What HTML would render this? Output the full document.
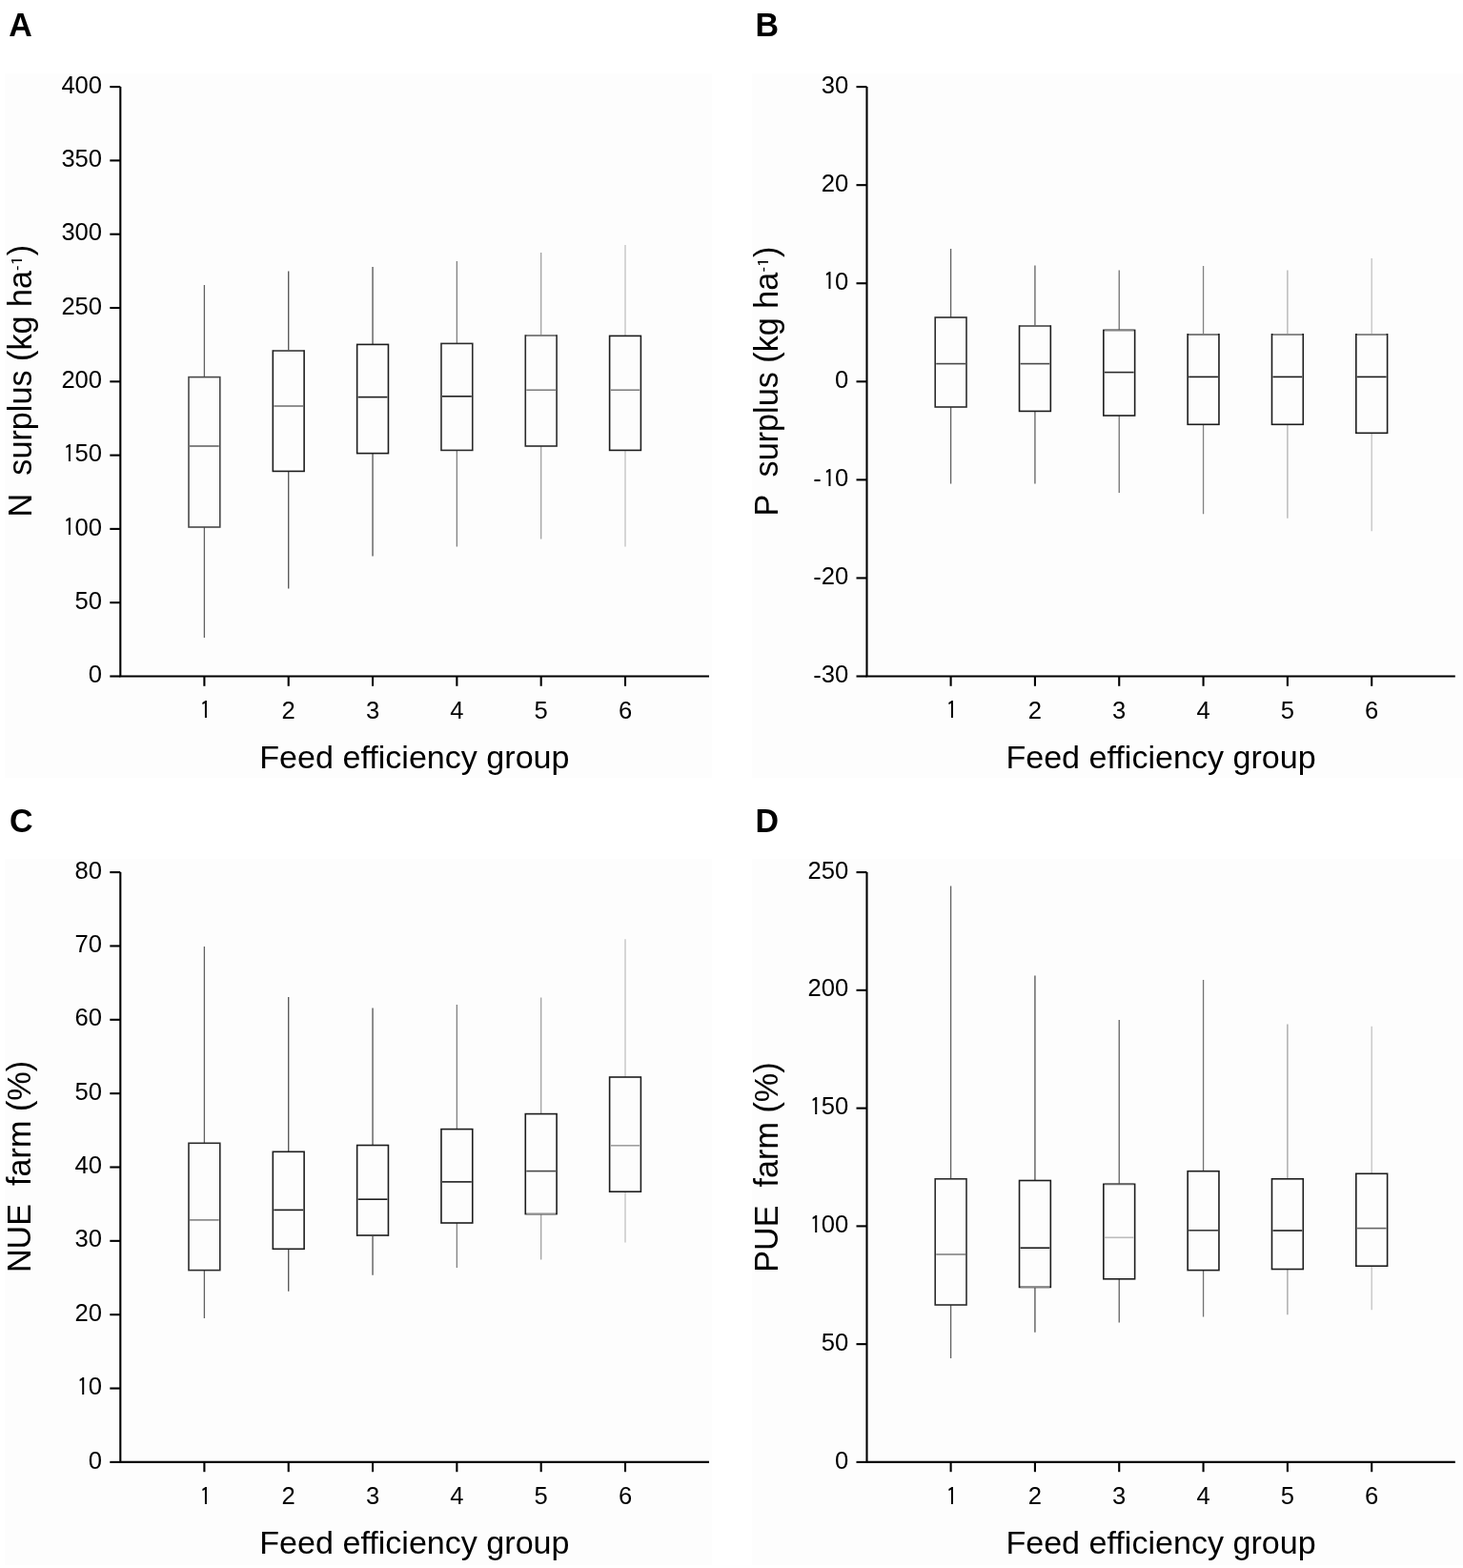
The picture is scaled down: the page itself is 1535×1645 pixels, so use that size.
<!DOCTYPE html><html><head><meta charset="utf-8"><title>Feed efficiency group box plots</title><style>
html,body{margin:0;padding:0;background:#fff;}body{width:1535px;height:1645px;overflow:hidden;}svg{display:block;}
text{font-family:"Liberation Sans", Arial, sans-serif;fill:#000;}
</style></head><body>
<svg width="1535" height="1645" viewBox="0 0 1535 1645">
<rect x="0" y="0" width="1535" height="1645" fill="#fff"/>
<rect x="5" y="77" width="742" height="739" fill="#fdfdfd"/>
<rect x="789" y="77" width="746" height="739" fill="#fdfdfd"/>
<rect x="5" y="901" width="742" height="741" fill="#fdfdfd"/>
<rect x="789" y="901" width="746" height="741" fill="#fdfdfd"/>
<text transform="translate(9.3 37.8) scale(1 1.03)" font-size="34" font-weight="bold">A</text>
<path d="M126.3 91.1V709.5H744" fill="none" stroke="#000" stroke-width="2.1"/>
<path d="M115.3 709.5H126.3" stroke="#000" stroke-width="2.1"/>
<text transform="translate(92.86 716.10) scale(1 1.04)" font-size="25.6">0</text>
<path d="M115.3 632.2H126.3" stroke="#000" stroke-width="2.1"/>
<text transform="translate(78.62 638.80) scale(1 1.04)" font-size="25.6">50</text>
<path d="M115.3 554.9H126.3" stroke="#000" stroke-width="2.1"/>
<text transform="translate(64.39 561.50) scale(1 1.04)" font-size="25.6"><tspan dx="2.11" dy="0.64" style="font-family:IPAGothic,'Liberation Sans',sans-serif;font-size:24.4px">1</tspan><tspan dx="-0.07" dy="-0.64">00</tspan></text>
<path d="M115.3 477.6H126.3" stroke="#000" stroke-width="2.1"/>
<text transform="translate(64.39 484.20) scale(1 1.04)" font-size="25.6"><tspan dx="2.11" dy="0.64" style="font-family:IPAGothic,'Liberation Sans',sans-serif;font-size:24.4px">1</tspan><tspan dx="-0.07" dy="-0.64">50</tspan></text>
<path d="M115.3 400.3H126.3" stroke="#000" stroke-width="2.1"/>
<text transform="translate(64.39 406.90) scale(1 1.04)" font-size="25.6">200</text>
<path d="M115.3 323H126.3" stroke="#000" stroke-width="2.1"/>
<text transform="translate(64.39 329.60) scale(1 1.04)" font-size="25.6">250</text>
<path d="M115.3 245.7H126.3" stroke="#000" stroke-width="2.1"/>
<text transform="translate(64.39 252.30) scale(1 1.04)" font-size="25.6">300</text>
<path d="M115.3 168.4H126.3" stroke="#000" stroke-width="2.1"/>
<text transform="translate(64.39 175.00) scale(1 1.04)" font-size="25.6">350</text>
<path d="M115.3 91.1H126.3" stroke="#000" stroke-width="2.1"/>
<text transform="translate(64.39 97.70) scale(1 1.04)" font-size="25.6">400</text>
<path d="M214.4 709.5V719.8" stroke="#000" stroke-width="2.1"/>
<text transform="translate(207.28 753.80) scale(1 1.04)" font-size="25.6"><tspan dx="2.11" dy="0.64" style="font-family:IPAGothic,'Liberation Sans',sans-serif;font-size:24.4px">1</tspan></text>
<path d="M302.72 709.5V719.8" stroke="#000" stroke-width="2.1"/>
<text transform="translate(295.60 753.80) scale(1 1.04)" font-size="25.6">2</text>
<path d="M391.04 709.5V719.8" stroke="#000" stroke-width="2.1"/>
<text transform="translate(383.92 753.80) scale(1 1.04)" font-size="25.6">3</text>
<path d="M479.36 709.5V719.8" stroke="#000" stroke-width="2.1"/>
<text transform="translate(472.24 753.80) scale(1 1.04)" font-size="25.6">4</text>
<path d="M567.68 709.5V719.8" stroke="#000" stroke-width="2.1"/>
<text transform="translate(560.56 753.80) scale(1 1.04)" font-size="25.6">5</text>
<path d="M656 709.5V719.8" stroke="#000" stroke-width="2.1"/>
<text transform="translate(648.88 753.80) scale(1 1.04)" font-size="25.6">6</text>
<text x="272.30" y="805.5" font-size="34.1">Feed efficiency group</text>
<g transform="translate(32.5 542.4) rotate(-90)"><text transform="scale(1 1.0407)" font-size="34.2">N</text><text x="24.70" y="0" font-size="34.2" xml:space="preserve">  surplus (kg ha</text><text x="258.51" y="-9.4" font-size="16.5">-</text><text transform="translate(263.62 -8.57) scale(1.3 0.99)" font-size="16.5" style="font-family:IPAGothic,'Liberation Sans',sans-serif">1</text><text x="274.18" y="0" font-size="34.2">)</text></g>
<path d="M214.4 299V395.6M214.4 553V669" stroke="#616161" stroke-width="1.3" fill="none"/>
<rect x="198" y="395.6" width="32.8" height="157.4" fill="none" stroke="#484848" stroke-width="1.6"/>
<path d="M199 468H229.8" stroke="#656565" stroke-width="1.6"/>
<path d="M302.72 284.4V368M302.72 494.4V617.6" stroke="#515151" stroke-width="1.3" fill="none"/>
<rect x="286.32" y="368" width="32.8" height="126.4" fill="none" stroke="#1d1d1d" stroke-width="1.6"/>
<path d="M287.32 368H318.12" stroke="#656565" stroke-width="1.6"/>
<path d="M287.32 426H318.12" stroke="#747474" stroke-width="1.6"/>
<path d="M391.04 280V361.4M391.04 475.6V583.6" stroke="#515151" stroke-width="1.3" fill="none"/>
<rect x="374.64" y="361.4" width="32.8" height="114.2" fill="none" stroke="#1d1d1d" stroke-width="1.6"/>
<path d="M375.64 416.6H406.44" stroke="#1d1d1d" stroke-width="1.6"/>
<path d="M479.36 274V360.4M479.36 472.4V573.6" stroke="#818181" stroke-width="1.3" fill="none"/>
<rect x="462.96" y="360.4" width="32.8" height="112" fill="none" stroke="#2b2b2b" stroke-width="1.6"/>
<path d="M463.96 415.8H494.76" stroke="#1d1d1d" stroke-width="1.6"/>
<path d="M567.68 265V352M567.68 468V565.4" stroke="#a2a2a2" stroke-width="1.3" fill="none"/>
<rect x="551.28" y="352" width="32.8" height="116" fill="none" stroke="#2b2b2b" stroke-width="1.6"/>
<path d="M552.28 352H583.08" stroke="#909090" stroke-width="1.6"/>
<path d="M552.28 409.2H583.08" stroke="#828282" stroke-width="1.6"/>
<path d="M656 257V352.4M656 472.4V573.6" stroke="#c2c2c2" stroke-width="1.3" fill="none"/>
<rect x="639.6" y="352.4" width="32.8" height="120" fill="none" stroke="#1d1d1d" stroke-width="1.6"/>
<path d="M640.6 409.2H671.4" stroke="#828282" stroke-width="1.6"/>
<text transform="translate(792.5 38.3) scale(1 1.03)" font-size="34" font-weight="bold">B</text>
<path d="M909.5 91.1V709.5H1526.8" fill="none" stroke="#000" stroke-width="2.1"/>
<path d="M898.5 709.5H909.5" stroke="#000" stroke-width="2.1"/>
<text transform="translate(853.30 716.10) scale(1 1.04)" font-size="25.6"><tspan dx="0.00" dy="0.80">-</tspan><tspan dx="0.00" dy="-0.80">30</tspan></text>
<path d="M898.5 606.433H909.5" stroke="#000" stroke-width="2.1"/>
<text transform="translate(853.30 613.03) scale(1 1.04)" font-size="25.6"><tspan dx="0.00" dy="0.80">-</tspan><tspan dx="0.00" dy="-0.80">20</tspan></text>
<path d="M898.5 503.367H909.5" stroke="#000" stroke-width="2.1"/>
<text transform="translate(853.30 509.97) scale(1 1.04)" font-size="25.6"><tspan dx="0.00" dy="0.80">-</tspan><tspan dx="2.11" dy="-0.16" style="font-family:IPAGothic,'Liberation Sans',sans-serif;font-size:24.4px">1</tspan><tspan dx="-0.07" dy="-0.64">0</tspan></text>
<path d="M898.5 400.3H909.5" stroke="#000" stroke-width="2.1"/>
<text transform="translate(876.06 406.90) scale(1 1.04)" font-size="25.6">0</text>
<path d="M898.5 297.233H909.5" stroke="#000" stroke-width="2.1"/>
<text transform="translate(861.82 303.83) scale(1 1.04)" font-size="25.6"><tspan dx="2.11" dy="0.64" style="font-family:IPAGothic,'Liberation Sans',sans-serif;font-size:24.4px">1</tspan><tspan dx="-0.07" dy="-0.64">0</tspan></text>
<path d="M898.5 194.167H909.5" stroke="#000" stroke-width="2.1"/>
<text transform="translate(861.82 200.77) scale(1 1.04)" font-size="25.6">20</text>
<path d="M898.5 91.1H909.5" stroke="#000" stroke-width="2.1"/>
<text transform="translate(861.82 97.70) scale(1 1.04)" font-size="25.6">30</text>
<path d="M997.6 709.5V719.8" stroke="#000" stroke-width="2.1"/>
<text transform="translate(990.48 753.80) scale(1 1.04)" font-size="25.6"><tspan dx="2.11" dy="0.64" style="font-family:IPAGothic,'Liberation Sans',sans-serif;font-size:24.4px">1</tspan></text>
<path d="M1085.92 709.5V719.8" stroke="#000" stroke-width="2.1"/>
<text transform="translate(1078.80 753.80) scale(1 1.04)" font-size="25.6">2</text>
<path d="M1174.24 709.5V719.8" stroke="#000" stroke-width="2.1"/>
<text transform="translate(1167.12 753.80) scale(1 1.04)" font-size="25.6">3</text>
<path d="M1262.56 709.5V719.8" stroke="#000" stroke-width="2.1"/>
<text transform="translate(1255.44 753.80) scale(1 1.04)" font-size="25.6">4</text>
<path d="M1350.88 709.5V719.8" stroke="#000" stroke-width="2.1"/>
<text transform="translate(1343.76 753.80) scale(1 1.04)" font-size="25.6">5</text>
<path d="M1439.2 709.5V719.8" stroke="#000" stroke-width="2.1"/>
<text transform="translate(1432.08 753.80) scale(1 1.04)" font-size="25.6">6</text>
<text x="1055.40" y="805.5" font-size="34.1">Feed efficiency group</text>
<g transform="translate(815.7 541.6) rotate(-90)"><text transform="scale(1 1.0407)" font-size="34.2">P</text><text x="22.20" y="0" font-size="34.2" xml:space="preserve">  surplus (kg ha</text><text x="256.01" y="-9.4" font-size="16.5">-</text><text transform="translate(261.12 -8.57) scale(1.3 0.99)" font-size="16.5" style="font-family:IPAGothic,'Liberation Sans',sans-serif">1</text><text x="271.69" y="0" font-size="34.2">)</text></g>
<path d="M997.6 261V333M997.6 427V507.6" stroke="#616161" stroke-width="1.3" fill="none"/>
<rect x="981.2" y="333" width="32.8" height="94" fill="none" stroke="#2b2b2b" stroke-width="1.6"/>
<path d="M982.2 381.6H1013" stroke="#484848" stroke-width="1.6"/>
<path d="M1085.92 278.6V342M1085.92 431.4V507.6" stroke="#616161" stroke-width="1.3" fill="none"/>
<rect x="1069.52" y="342" width="32.8" height="89.4" fill="none" stroke="#1d1d1d" stroke-width="1.6"/>
<path d="M1070.52 342H1101.32" stroke="#747474" stroke-width="1.6"/>
<path d="M1070.52 381.6H1101.32" stroke="#484848" stroke-width="1.6"/>
<path d="M1174.24 283.4V346.4M1174.24 436V517" stroke="#717171" stroke-width="1.3" fill="none"/>
<rect x="1157.84" y="346.4" width="32.8" height="89.6" fill="none" stroke="#1d1d1d" stroke-width="1.6"/>
<path d="M1158.84 346.4H1189.64" stroke="#828282" stroke-width="1.6"/>
<path d="M1158.84 390.6H1189.64" stroke="#2b2b2b" stroke-width="1.6"/>
<path d="M1262.56 278.9V350.8M1262.56 445.3V539.3" stroke="#818181" stroke-width="1.3" fill="none"/>
<rect x="1246.16" y="350.8" width="32.8" height="94.5" fill="none" stroke="#1d1d1d" stroke-width="1.6"/>
<path d="M1247.16 350.8H1277.96" stroke="#828282" stroke-width="1.6"/>
<path d="M1247.16 395.4H1277.96" stroke="#1d1d1d" stroke-width="1.6"/>
<path d="M1350.88 283.4V350.8M1350.88 445.3V543.8" stroke="#b2b2b2" stroke-width="1.3" fill="none"/>
<rect x="1334.48" y="350.8" width="32.8" height="94.5" fill="none" stroke="#1d1d1d" stroke-width="1.6"/>
<path d="M1335.48 350.8H1366.28" stroke="#909090" stroke-width="1.6"/>
<path d="M1335.48 395.4H1366.28" stroke="#1d1d1d" stroke-width="1.6"/>
<path d="M1439.2 271V350.8M1439.2 454.3V557.3" stroke="#c2c2c2" stroke-width="1.3" fill="none"/>
<rect x="1422.8" y="350.8" width="32.8" height="103.5" fill="none" stroke="#1d1d1d" stroke-width="1.6"/>
<path d="M1423.8 350.8H1454.6" stroke="#909090" stroke-width="1.6"/>
<path d="M1423.8 395.4H1454.6" stroke="#1d1d1d" stroke-width="1.6"/>
<text transform="translate(9.9 872.5) scale(1 1.03)" font-size="34" font-weight="bold">C</text>
<path d="M126.3 915.1V1533.9H744" fill="none" stroke="#000" stroke-width="2.1"/>
<path d="M115.3 1533.9H126.3" stroke="#000" stroke-width="2.1"/>
<text transform="translate(92.86 1540.50) scale(1 1.04)" font-size="25.6">0</text>
<path d="M115.3 1456.55H126.3" stroke="#000" stroke-width="2.1"/>
<text transform="translate(78.62 1463.15) scale(1 1.04)" font-size="25.6"><tspan dx="2.11" dy="0.64" style="font-family:IPAGothic,'Liberation Sans',sans-serif;font-size:24.4px">1</tspan><tspan dx="-0.07" dy="-0.64">0</tspan></text>
<path d="M115.3 1379.2H126.3" stroke="#000" stroke-width="2.1"/>
<text transform="translate(78.62 1385.80) scale(1 1.04)" font-size="25.6">20</text>
<path d="M115.3 1301.85H126.3" stroke="#000" stroke-width="2.1"/>
<text transform="translate(78.62 1308.45) scale(1 1.04)" font-size="25.6">30</text>
<path d="M115.3 1224.5H126.3" stroke="#000" stroke-width="2.1"/>
<text transform="translate(78.62 1231.10) scale(1 1.04)" font-size="25.6">40</text>
<path d="M115.3 1147.15H126.3" stroke="#000" stroke-width="2.1"/>
<text transform="translate(78.62 1153.75) scale(1 1.04)" font-size="25.6">50</text>
<path d="M115.3 1069.8H126.3" stroke="#000" stroke-width="2.1"/>
<text transform="translate(78.62 1076.40) scale(1 1.04)" font-size="25.6">60</text>
<path d="M115.3 992.45H126.3" stroke="#000" stroke-width="2.1"/>
<text transform="translate(78.62 999.05) scale(1 1.04)" font-size="25.6">70</text>
<path d="M115.3 915.1H126.3" stroke="#000" stroke-width="2.1"/>
<text transform="translate(78.62 921.70) scale(1 1.04)" font-size="25.6">80</text>
<path d="M214.4 1533.9V1544.2" stroke="#000" stroke-width="2.1"/>
<text transform="translate(207.28 1578.20) scale(1 1.04)" font-size="25.6"><tspan dx="2.11" dy="0.64" style="font-family:IPAGothic,'Liberation Sans',sans-serif;font-size:24.4px">1</tspan></text>
<path d="M302.72 1533.9V1544.2" stroke="#000" stroke-width="2.1"/>
<text transform="translate(295.60 1578.20) scale(1 1.04)" font-size="25.6">2</text>
<path d="M391.04 1533.9V1544.2" stroke="#000" stroke-width="2.1"/>
<text transform="translate(383.92 1578.20) scale(1 1.04)" font-size="25.6">3</text>
<path d="M479.36 1533.9V1544.2" stroke="#000" stroke-width="2.1"/>
<text transform="translate(472.24 1578.20) scale(1 1.04)" font-size="25.6">4</text>
<path d="M567.68 1533.9V1544.2" stroke="#000" stroke-width="2.1"/>
<text transform="translate(560.56 1578.20) scale(1 1.04)" font-size="25.6">5</text>
<path d="M656 1533.9V1544.2" stroke="#000" stroke-width="2.1"/>
<text transform="translate(648.88 1578.20) scale(1 1.04)" font-size="25.6">6</text>
<text x="272.30" y="1629.6" font-size="34.1">Feed efficiency group</text>
<g transform="translate(32.4 1335.1) rotate(-90)"><text transform="scale(1 1.0407)" font-size="34.2">NUE</text><text x="72.21" y="0" font-size="34.2" xml:space="preserve">  farm (%)</text></g>
<path d="M214.4 993V1199.3M214.4 1332.6V1383" stroke="#616161" stroke-width="1.3" fill="none"/>
<rect x="198" y="1199.3" width="32.8" height="133.3" fill="none" stroke="#2b2b2b" stroke-width="1.6"/>
<path d="M199 1279.9H229.8" stroke="#828282" stroke-width="1.6"/>
<path d="M302.72 1046.1V1208.3M302.72 1310.3V1354.7" stroke="#515151" stroke-width="1.3" fill="none"/>
<rect x="286.32" y="1208.3" width="32.8" height="102" fill="none" stroke="#1d1d1d" stroke-width="1.6"/>
<path d="M287.32 1269.4H318.12" stroke="#1d1d1d" stroke-width="1.6"/>
<path d="M391.04 1057.5V1201.5M391.04 1296.1V1337.7" stroke="#515151" stroke-width="1.3" fill="none"/>
<rect x="374.64" y="1201.5" width="32.8" height="94.6" fill="none" stroke="#1d1d1d" stroke-width="1.6"/>
<path d="M375.64 1296.1H406.44" stroke="#484848" stroke-width="1.6"/>
<path d="M375.64 1258.2H406.44" stroke="#1d1d1d" stroke-width="1.6"/>
<path d="M479.36 1054.1V1184.6M479.36 1283V1330" stroke="#818181" stroke-width="1.3" fill="none"/>
<rect x="462.96" y="1184.6" width="32.8" height="98.4" fill="none" stroke="#1d1d1d" stroke-width="1.6"/>
<path d="M463.96 1239.9H494.76" stroke="#1d1d1d" stroke-width="1.6"/>
<path d="M567.68 1046.5V1168.6M567.68 1273.6V1321.6" stroke="#a2a2a2" stroke-width="1.3" fill="none"/>
<rect x="551.28" y="1168.6" width="32.8" height="105" fill="none" stroke="#1d1d1d" stroke-width="1.6"/>
<path d="M552.28 1273.6H583.08" stroke="#909090" stroke-width="1.6"/>
<path d="M552.28 1228.6H583.08" stroke="#484848" stroke-width="1.6"/>
<path d="M656 985.2V1130M656 1250.2V1303.6" stroke="#c2c2c2" stroke-width="1.3" fill="none"/>
<rect x="639.6" y="1130" width="32.8" height="120.2" fill="none" stroke="#1d1d1d" stroke-width="1.6"/>
<path d="M640.6 1201.8H671.4" stroke="#9f9f9f" stroke-width="1.6"/>
<text transform="translate(792.4 872.5) scale(1 1.03)" font-size="34" font-weight="bold">D</text>
<path d="M909.5 915.1V1533.9H1526.8" fill="none" stroke="#000" stroke-width="2.1"/>
<path d="M898.5 1533.9H909.5" stroke="#000" stroke-width="2.1"/>
<text transform="translate(876.06 1540.50) scale(1 1.04)" font-size="25.6">0</text>
<path d="M898.5 1410.14H909.5" stroke="#000" stroke-width="2.1"/>
<text transform="translate(861.82 1416.74) scale(1 1.04)" font-size="25.6">50</text>
<path d="M898.5 1286.38H909.5" stroke="#000" stroke-width="2.1"/>
<text transform="translate(847.59 1292.98) scale(1 1.04)" font-size="25.6"><tspan dx="2.11" dy="0.64" style="font-family:IPAGothic,'Liberation Sans',sans-serif;font-size:24.4px">1</tspan><tspan dx="-0.07" dy="-0.64">00</tspan></text>
<path d="M898.5 1162.62H909.5" stroke="#000" stroke-width="2.1"/>
<text transform="translate(847.59 1169.22) scale(1 1.04)" font-size="25.6"><tspan dx="2.11" dy="0.64" style="font-family:IPAGothic,'Liberation Sans',sans-serif;font-size:24.4px">1</tspan><tspan dx="-0.07" dy="-0.64">50</tspan></text>
<path d="M898.5 1038.86H909.5" stroke="#000" stroke-width="2.1"/>
<text transform="translate(847.59 1045.46) scale(1 1.04)" font-size="25.6">200</text>
<path d="M898.5 915.1H909.5" stroke="#000" stroke-width="2.1"/>
<text transform="translate(847.59 921.70) scale(1 1.04)" font-size="25.6">250</text>
<path d="M997.6 1533.9V1544.2" stroke="#000" stroke-width="2.1"/>
<text transform="translate(990.48 1578.20) scale(1 1.04)" font-size="25.6"><tspan dx="2.11" dy="0.64" style="font-family:IPAGothic,'Liberation Sans',sans-serif;font-size:24.4px">1</tspan></text>
<path d="M1085.92 1533.9V1544.2" stroke="#000" stroke-width="2.1"/>
<text transform="translate(1078.80 1578.20) scale(1 1.04)" font-size="25.6">2</text>
<path d="M1174.24 1533.9V1544.2" stroke="#000" stroke-width="2.1"/>
<text transform="translate(1167.12 1578.20) scale(1 1.04)" font-size="25.6">3</text>
<path d="M1262.56 1533.9V1544.2" stroke="#000" stroke-width="2.1"/>
<text transform="translate(1255.44 1578.20) scale(1 1.04)" font-size="25.6">4</text>
<path d="M1350.88 1533.9V1544.2" stroke="#000" stroke-width="2.1"/>
<text transform="translate(1343.76 1578.20) scale(1 1.04)" font-size="25.6">5</text>
<path d="M1439.2 1533.9V1544.2" stroke="#000" stroke-width="2.1"/>
<text transform="translate(1432.08 1578.20) scale(1 1.04)" font-size="25.6">6</text>
<text x="1055.40" y="1629.6" font-size="34.1">Feed efficiency group</text>
<g transform="translate(815.6 1334.7) rotate(-90)"><text transform="scale(1 1.0407)" font-size="34.2">PUE</text><text x="70.32" y="0" font-size="34.2" xml:space="preserve">  farm (%)</text></g>
<path d="M997.6 929.4V1236.8M997.6 1369V1425" stroke="#616161" stroke-width="1.3" fill="none"/>
<rect x="981.2" y="1236.8" width="32.8" height="132.2" fill="none" stroke="#2b2b2b" stroke-width="1.6"/>
<path d="M982.2 1316H1013" stroke="#828282" stroke-width="1.6"/>
<path d="M1085.92 1023.6V1238.5M1085.92 1350.4V1397.7" stroke="#515151" stroke-width="1.3" fill="none"/>
<rect x="1069.52" y="1238.5" width="32.8" height="111.9" fill="none" stroke="#1d1d1d" stroke-width="1.6"/>
<path d="M1070.52 1350.4H1101.32" stroke="#828282" stroke-width="1.6"/>
<path d="M1070.52 1309.2H1101.32" stroke="#1d1d1d" stroke-width="1.6"/>
<path d="M1174.24 1070.1V1242.3M1174.24 1341.8V1387.4" stroke="#616161" stroke-width="1.3" fill="none"/>
<rect x="1157.84" y="1242.3" width="32.8" height="99.5" fill="none" stroke="#1d1d1d" stroke-width="1.6"/>
<path d="M1158.84 1242.3H1189.64" stroke="#656565" stroke-width="1.6"/>
<path d="M1158.84 1298.3H1189.64" stroke="#bcbcbc" stroke-width="1.6"/>
<path d="M1262.56 1028V1228.7M1262.56 1332.6V1381.4" stroke="#717171" stroke-width="1.3" fill="none"/>
<rect x="1246.16" y="1228.7" width="32.8" height="103.9" fill="none" stroke="#1d1d1d" stroke-width="1.6"/>
<path d="M1247.16 1290.8H1277.96" stroke="#3a3a3a" stroke-width="1.6"/>
<path d="M1350.88 1074.6V1236.8M1350.88 1331.5V1379.2" stroke="#a2a2a2" stroke-width="1.3" fill="none"/>
<rect x="1334.48" y="1236.8" width="32.8" height="94.7" fill="none" stroke="#1d1d1d" stroke-width="1.6"/>
<path d="M1335.48 1291H1366.28" stroke="#1d1d1d" stroke-width="1.6"/>
<path d="M1439.2 1076.8V1231.3M1439.2 1328.2V1374.2" stroke="#c2c2c2" stroke-width="1.3" fill="none"/>
<rect x="1422.8" y="1231.3" width="32.8" height="96.9" fill="none" stroke="#1d1d1d" stroke-width="1.6"/>
<path d="M1423.8 1288.6H1454.6" stroke="#656565" stroke-width="1.6"/>
</svg></body></html>
